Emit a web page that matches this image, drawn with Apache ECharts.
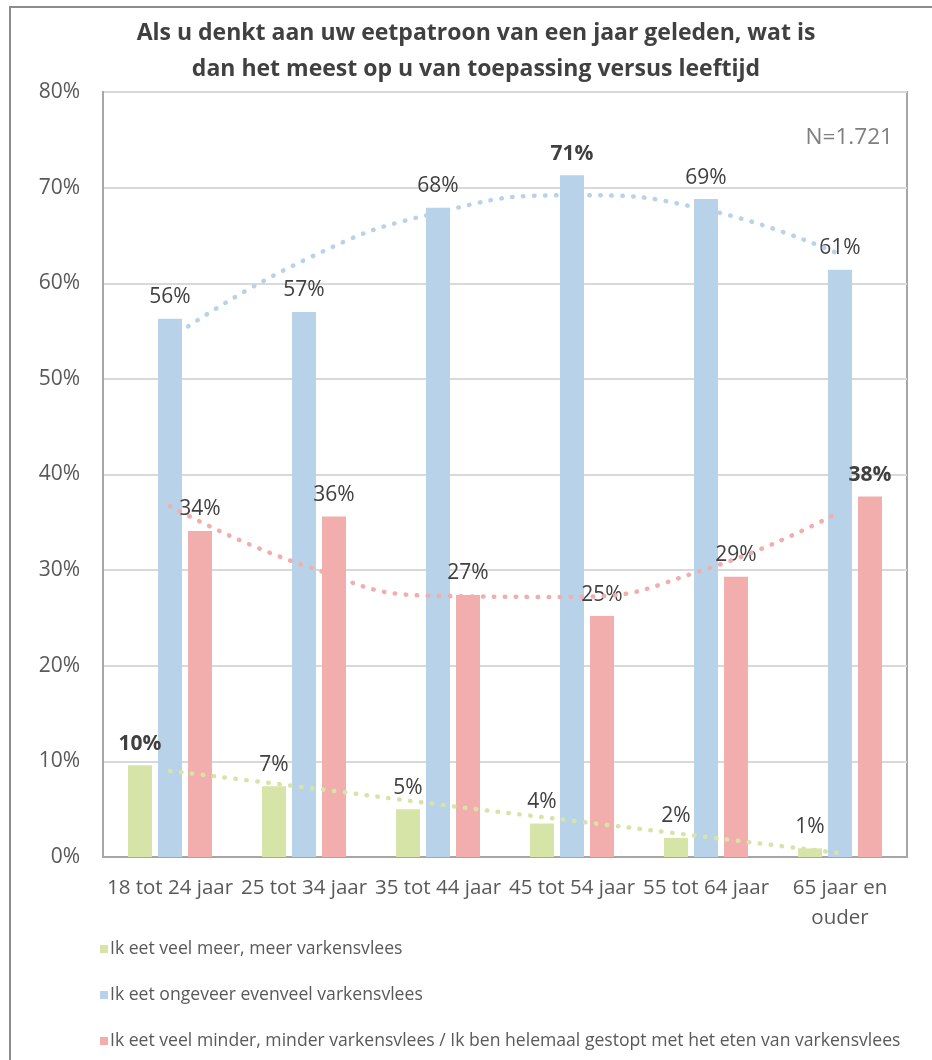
<!DOCTYPE html>
<html>
  <head>
    <meta charset="UTF-8">
    <title>Varkensvlees eetpatroon</title>
    <script src="https://cdn.jsdelivr.net/npm/echarts@6/dist/echarts.min.js"></script>
    <style>
      html, body { margin: 0; padding: 0; background: #fff; }
    </style>
  </head>
  <body>
    <div id="myChart" style="width: 932px;height:1060px;"></div>
    <script type="text/javascript">
      // categorieen (leeftijd)
      var categories = ['18 tot 24 jaar', '25 tot 34 jaar', '35 tot 44 jaar', '45 tot 54 jaar', '55 tot 64 jaar', '65 jaar en\nouder'];
      var seriesNames = [
        'Ik eet veel meer, meer varkensvlees',
        'Ik eet ongeveer evenveel varkensvlees',
        'Ik eet veel minder, minder varkensvlees / Ik ben helemaal gestopt met het eten van varkensvlees'
      ];
      var meer = [9.6, 7.4, 5.0, 3.5, 2.0, 0.9];         // groen
      var evenveel = [56.3, 57.0, 67.9, 71.3, 68.8, 61.4]; // blauw
      var minder = [34.1, 35.6, 27.4, 25.2, 29.3, 37.7];   // roze
      // trendlijnen (afgelezen)
      var trendMeer = [9.0, 7.3, 5.5, 3.8, 2.1, 0.4];
      var trendEvenveel = [54.2, 62.4, 67.4, 69.2, 67.7, 63.0];
      var trendMinder = [36.7, 30.5, 27.3, 27.2, 30.1, 36.1];
      // vetgedrukte labels (index)
      var boldMeer = [0];
      var boldEvenveel = [3];
      var boldMinder = [5];
      var yTicks = [0, 10, 20, 30, 40, 50, 60, 70, 80];

      var colors = ['#d7e4a8', '#b8d2ea', '#f2adad'];
      var FONT = 'Open Sans';

      function barData(values, bold) {
        return values.map(function (v, i) {
          var item = { value: v };
          if (bold.indexOf(i) >= 0) {
            item.label = { fontWeight: 'bold' };
          }
          return item;
        });
      }

      function barSeries(idx, values, bold) {
        return {
          name: seriesNames[idx],
          type: 'bar',
          barWidth: 24,
          barGap: '25%',
          itemStyle: { color: colors[idx] },
          label: {
            show: true,
            position: 'top',
            distance: 11,
            color: '#404040',
            fontSize: 21,
            fontFamily: FONT,
            formatter: function (p) { return Math.round(p.value) + '%'; }
          },
          data: barData(values, bold),
          z: 2
        };
      }

      function trendSeries(idx, values) {
        return {
          name: 'trend' + idx,
          type: 'line',
          smooth: true,
          symbol: 'none',
          silent: true,
          lineStyle: {
            color: colors[idx],
            width: 4.5,
            type: [0.5, 10.5],
            cap: 'round'
          },
          data: values,
          z: 5
        };
      }

      var myChart = echarts.init(document.getElementById('myChart'));

      var option = {
        animation: false,
        backgroundColor: '#fff',
        title: {
          text: 'Als u denkt aan uw eetpatroon van een jaar geleden, wat is\ndan het meest op u van toepassing versus leeftijd',
          left: 471,
          textAlign: 'center',
          top: 10,
          textStyle: {
            fontFamily: FONT,
            fontSize: 23,
            fontWeight: 'bold',
            color: '#404040',
            lineHeight: 36
          }
        },
        legend: {
          data: seriesNames,
          orient: 'vertical',
          left: 95,
          top: 934,
          icon: 'rect',
          itemWidth: 8,
          itemHeight: 8,
          itemGap: 26,
          textStyle: {
            fontFamily: FONT,
            fontSize: 17.6,
            color: '#595959',
            lineHeight: 20,
            padding: [0, 0, 0, -3]
          }
        },
        grid: {
          left: 103,
          right: 25,
          top: 92,
          bottom: 203,
          show: true,
          borderColor: '#a6a6a6',
          borderWidth: 2
        },
        xAxis: {
          type: 'category',
          data: categories,
          axisLine: { lineStyle: { color: '#a6a6a6', width: 2 } },
          axisTick: { show: false },
          axisLabel: {
            interval: 0,
            margin: 16,
            fontFamily: FONT,
            fontSize: 20.5,
            color: '#595959',
            lineHeight: 30
          }
        },
        yAxis: {
          type: 'value',
          min: yTicks[0],
          max: yTicks[yTicks.length - 1],
          interval: 10,
          axisLine: { show: true, lineStyle: { color: '#a6a6a6', width: 2 } },
          axisTick: { show: false },
          splitLine: { lineStyle: { color: '#d9d9d9', width: 2 } },
          axisLabel: {
            margin: 23,
            fontFamily: FONT,
            fontSize: 21,
            color: '#595959',
            formatter: '{value}%'
          }
        },
        graphic: [
          {
            type: 'rect',
            shape: { x: 10, y: 7, width: 1000, height: 1200 },
            style: { fill: 'none', stroke: '#8c8c8c', lineWidth: 2 },
            silent: true
          },
          {
            type: 'text',
            right: 932 - 893,
            top: 126,
            style: {
              text: 'N=1.721',
              fontFamily: FONT,
              fontSize: 22.6,
              fill: '#7f7f7f'
            }
          }
        ],
        series: [
          barSeries(0, meer, boldMeer),
          barSeries(1, evenveel, boldEvenveel),
          barSeries(2, minder, boldMinder),
          trendSeries(0, trendMeer),
          trendSeries(1, trendEvenveel),
          trendSeries(2, trendMinder)
        ]
      };

      myChart.setOption(option);
    </script>
  </body>
</html>
